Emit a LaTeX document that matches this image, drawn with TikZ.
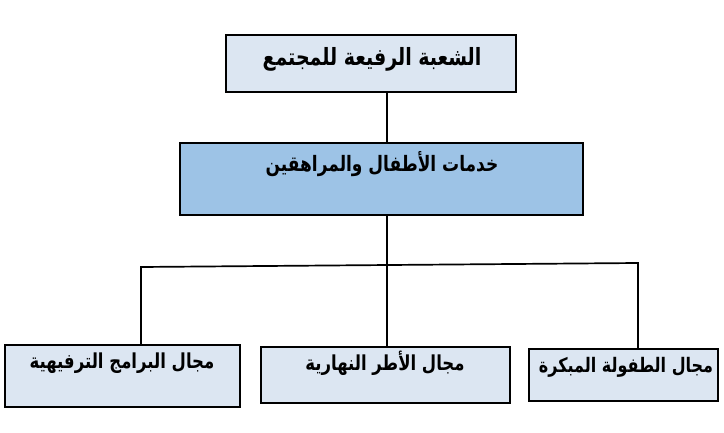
\documentclass[tikz,border=0pt]{standalone}
\usepackage{fontspec}
\usepackage{graphicx}
\newfontfamily\arabicfont[Script=Arabic]{DejaVu Sans}
\TeXXeTstate=1
\definecolor{lightbox}{HTML}{DCE6F2}
\definecolor{midbox}{HTML}{9DC3E6}
\newcommand{\artxt}[1]{\scalebox{1}[1.25]{\beginR #1\endR}}
\begin{document}
\begin{tikzpicture}[x=1pt,y=-1pt,
  box/.style={draw=black,line width=1.3pt},
  lbl/.style={inner sep=0pt},
  conn/.style={draw=black,line width=1.7pt}]
\useasboundingbox (0,0) rectangle (724,433);
% boxes
\path[box,fill=lightbox] (226,35) rectangle (516,92);
\node[lbl,font=\arabicfont\bfseries\fontsize{19}{22}\selectfont] (top) at (372,59) {\artxt{الشعبة الرفيعة للمجتمع}};
\path[box,fill=midbox] (180,143) rectangle (583,215);
\node[lbl,font=\arabicfont\bfseries\fontsize{17}{20}\selectfont] (mid) at (382,164) {\artxt{خدمات الأطفال والمراهقين}};
\path[box,fill=lightbox] (5,345) rectangle (240,407);
\node[lbl,font=\arabicfont\bfseries\fontsize{16.5}{19}\selectfont] (bl) at (122,363) {\artxt{مجال البرامج الترفيهية}};
\path[box,fill=lightbox] (261,347) rectangle (510,403);
\node[lbl,font=\arabicfont\bfseries\fontsize{16.5}{19}\selectfont] (bm) at (385,363) {\artxt{مجال الأطر النهارية}};
\path[box,fill=lightbox] (529,349) rectangle (718,401);
\node[lbl,font=\arabicfont\bfseries\fontsize{16}{19}\selectfont] (br) at (626,367) {\artxt{مجال الطفولة المبكرة}};
% connectors
\coordinate (a1) at (387,92);
\coordinate (a2) at (387,143);
\coordinate (b1) at (387,215);
\coordinate (jl) at (141,267);
\coordinate (jr) at (638,263);
\coordinate (el) at (141,345);
\coordinate (em) at (387,347);
\coordinate (er) at (638,349);
\draw[conn] (a1) -- (a2);
\draw[conn] (b1) -- (em);
\draw[conn] (el) -- (jl) -- (jr) -- (er);
\end{tikzpicture}
\end{document}
